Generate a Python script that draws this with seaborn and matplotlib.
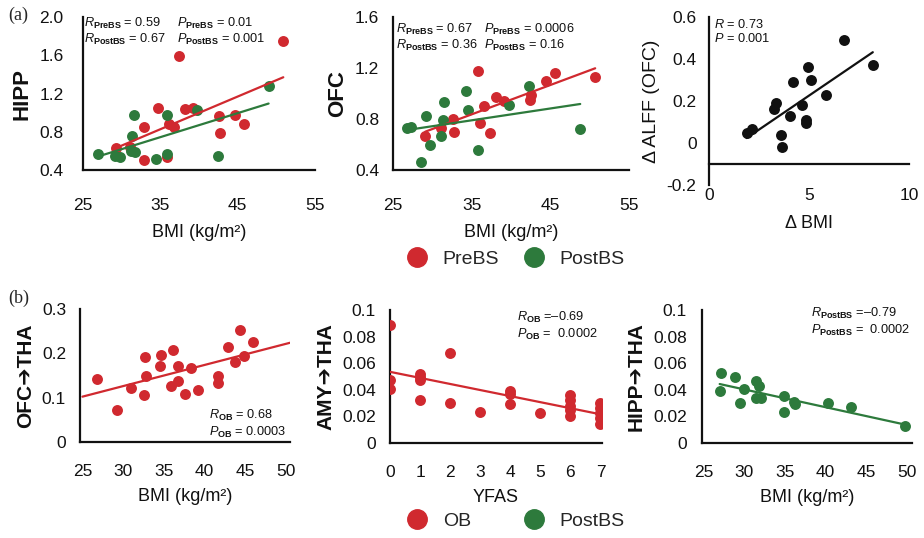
"""BMI / brain-connectivity scatter panels with linear fits."""
import matplotlib

matplotlib.use("Agg")
import matplotlib.pyplot as plt
import pandas as pd
import seaborn as sns
from matplotlib.lines import Line2D

RED = "#d0292f"
GREEN = "#2d7a3c"
BLACK = "#111111"

# ---- (a) HIPP vs BMI
hipp_pre_bmi = [50.9, 37.4, 34.7, 38.2, 39.2, 32.9, 36.1, 36.8, 42.6, 44.7, 45.8, 42.7, 29.3, 31.1, 32.9, 35.9]
hipp_pre_val = [1.75, 1.59, 1.05, 1.04, 1.05, 0.85, 0.88, 0.85, 0.96, 0.97, 0.88, 0.79, 0.63, 0.64, 0.50, 0.54]
hipp_post_bmi = [49.0, 39.8, 31.6, 35.9, 31.3, 26.9, 29.2, 29.8, 31.2, 31.7, 34.5, 35.8, 42.5]
hipp_post_val = [1.28, 1.03, 0.98, 0.98, 0.76, 0.57, 0.55, 0.54, 0.60, 0.59, 0.52, 0.57, 0.55]

# ---- (a) OFC vs BMI
ofc_pre_bmi = [35.8, 45.6, 44.5, 50.7, 42.6, 42.4, 38.1, 39.1, 36.6, 32.6, 36.0, 32.8, 29.1, 37.3, 31.1]
ofc_pre_val = [1.18, 1.16, 1.10, 1.13, 0.99, 0.95, 0.97, 0.94, 0.90, 0.80, 0.77, 0.70, 0.67, 0.69, 0.73]
ofc_post_bmi = [34.3, 42.3, 31.5, 34.5, 39.7, 29.2, 31.4, 26.8, 27.3, 31.1, 29.7, 35.8, 28.6, 48.8]
ofc_post_val = [1.02, 1.06, 0.93, 0.87, 0.91, 0.82, 0.79, 0.73, 0.74, 0.67, 0.60, 0.56, 0.46, 0.72]

# ---- (a) change in ALFF vs change in BMI
d_bmi = [6.73, 8.19, 4.97, 5.11, 4.20, 5.83, 3.35, 3.27, 4.64, 4.05, 4.86, 4.86, 2.13, 1.88, 3.60, 3.67]
d_alff = [0.489, 0.373, 0.362, 0.302, 0.290, 0.230, 0.192, 0.162, 0.179, 0.130, 0.111, 0.095, 0.068, 0.048, 0.038, -0.019]

# ---- (b) OFC->THA vs BMI (OB)
oft_bmi = [26.8, 29.2, 31.0, 32.7, 32.8, 32.6, 34.6, 34.5, 36.1, 35.9, 36.8, 36.8, 37.6, 38.3, 39.2,
           41.6, 41.6, 42.9, 43.7, 44.3, 44.8, 46.0]
oft_val = [0.141, 0.073, 0.122, 0.191, 0.148, 0.107, 0.197, 0.171, 0.208, 0.127, 0.171, 0.138, 0.108,
           0.168, 0.118, 0.148, 0.132, 0.214, 0.180, 0.253, 0.195, 0.226]

# ---- (b) AMY->THA vs YFAS (OB)
yfas = [0, 0, 0, 1, 1, 1, 1, 2, 2, 3, 4, 4, 4, 5, 6, 6, 6, 6, 6, 7, 7, 7, 7, 7]
amy_val = [0.089, 0.0475, 0.0405, 0.052, 0.050, 0.0475, 0.032, 0.068, 0.030, 0.023, 0.039, 0.037,
           0.029, 0.0225, 0.036, 0.032, 0.028, 0.0245, 0.0205, 0.030, 0.026, 0.0225, 0.019, 0.0145]

# ---- (b) HIPP->THA vs BMI (PostBS)
hit_bmi = [27.1, 26.97, 28.9, 29.5, 29.96, 31.4, 31.8, 31.4, 32.0, 34.9, 34.9, 36.1, 36.2, 40.3, 43.1, 49.75]
hit_val = [0.053, 0.039, 0.050, 0.030, 0.0405, 0.0465, 0.043, 0.034, 0.034, 0.0355, 0.023, 0.031,
           0.029, 0.030, 0.027, 0.013]

# tick labels
bmi_ticks_a = [25, 35, 45, 55]
hipp_ticks = [0.4, 0.8, 1.2, 1.6, 2.0]
ofc_ticks = [0.4, 0.8, 1.2, 1.6]
alff_ticks = [-0.2, 0, 0.2, 0.4, 0.6]
alff_ticklabels = ["-0.2", "0", "0.2", "0.4", "0.6"]
dbmi_ticks = [0, 5, 10]
bmi_ticks_b = [25, 30, 35, 40, 45, 50]
oft_ticks = [0, 0.1, 0.2, 0.3]
oft_ticklabels = ["0", "0.1", "0.2", "0.3"]
yfas_ticks = list(range(8))
thal_ticks = [0, 0.02, 0.04, 0.06, 0.08, 0.1]
thal_ticklabels = ["0", "0.02", "0.04", "0.06", "0.08", "0.1"]

sns.set_theme(style="white")
plt.rcParams["font.family"] = ["Liberation Sans", "DejaVu Sans"]
plt.rcParams["mathtext.fontset"] = "custom"
plt.rcParams["mathtext.rm"] = "Liberation Sans"
plt.rcParams["mathtext.it"] = "Liberation Sans:italic"
plt.rcParams["mathtext.bf"] = "Liberation Sans:bold"

W, H = 924, 538
fig = plt.figure(figsize=(W / 100, H / 100), dpi=100)


def add_axes(left, top, right, bottom):
    return fig.add_axes([left / W, 1 - bottom / H, (right - left) / W, (bottom - top) / H])


def style(ax, xlim, ylim, xticks, yticks, xlabel, ylabel, xpad, ypad,
          xticklabels=None, yticklabels=None, ybold=True, ysize=15, xlabelpad=6):
    ax.set_xlim(xlim)
    ax.set_ylim(ylim)
    ax.set_xticks(xticks)
    ax.set_yticks(yticks)
    if xticklabels is not None:
        ax.set_xticklabels(xticklabels)
    if yticklabels is not None:
        ax.set_yticklabels(yticklabels)
    for side in ("top", "right"):
        ax.spines[side].set_visible(False)
    for side in ("left", "bottom"):
        ax.spines[side].set_color(BLACK)
        ax.spines[side].set_linewidth(1.6)
    ax.tick_params(axis="x", length=0, pad=xpad, labelsize=12.5, colors=BLACK)
    ax.tick_params(axis="y", length=0, pad=ypad, labelsize=12.5, colors=BLACK)
    ax.set_xlabel(xlabel, fontsize=13, color=BLACK, labelpad=xlabelpad)
    ax.set_ylabel(ylabel, fontsize=ysize, color=BLACK, labelpad=5,
                  fontweight="bold" if ybold else "normal")
    ax.patch.set_alpha(0)


def points(ax, x, y, color):
    sns.scatterplot(x=x, y=y, ax=ax, color=color, s=62, linewidth=0, zorder=3)


def fit_line(ax, x, y, color, truncate=True):
    sns.regplot(x=pd.Series(x), y=pd.Series(y), ax=ax, scatter=False, ci=None, truncate=truncate,
                line_kws=dict(color=color, lw=1.6, zorder=4))


def stat_text(x, y, s, size=9.2):
    fig.text(x / W, 1 - y / H, s, fontsize=size, color=BLACK, va="center", ha="left")


# ---------- row (a)
ax1 = add_axes(83, 17, 315, 170)
points(ax1, hipp_pre_bmi, hipp_pre_val, RED)
points(ax1, hipp_post_bmi, hipp_post_val, GREEN)
fit_line(ax1, hipp_pre_bmi, hipp_pre_val, RED)
fit_line(ax1, hipp_post_bmi, hipp_post_val, GREEN)
style(ax1, (25, 55), (0.4, 2.0), bmi_ticks_a, hipp_ticks, "BMI (kg/m²)", "HIPP", 20, 14,
      yticklabels=[f"{v:.1f}" for v in hipp_ticks], ysize=16, xlabelpad=8)
stat_text(84, 23, r"$\mathit{R}_{\mathbf{PreBS}}$ = 0.59")
stat_text(84, 39, r"$\mathit{R}_{\mathbf{PostBS}}$ = 0.67")
stat_text(177, 23, r"$\mathit{P}_{\mathbf{PreBS}}$ = 0.01")
stat_text(177, 39, r"$\mathit{P}_{\mathbf{PostBS}}$ = 0.001")

ax2 = add_axes(393, 17, 629, 170)
points(ax2, ofc_pre_bmi, ofc_pre_val, RED)
points(ax2, ofc_post_bmi, ofc_post_val, GREEN)
fit_line(ax2, ofc_pre_bmi, ofc_pre_val, RED)
fit_line(ax2, ofc_post_bmi, ofc_post_val, GREEN)
style(ax2, (25, 55), (0.4, 1.6), bmi_ticks_a, ofc_ticks, "BMI (kg/m²)", "OFC", 20, 10,
      yticklabels=[f"{v:.1f}" for v in ofc_ticks], ysize=16, xlabelpad=8)
stat_text(396, 29, r"$\mathit{R}_{\mathbf{PreBS}}$ = 0.67")
stat_text(396, 45, r"$\mathit{R}_{\mathbf{PostBS}}$ = 0.36")
stat_text(484, 29, r"$\mathit{P}_{\mathbf{PreBS}}$ = 0.0006")
stat_text(484, 45, r"$\mathit{P}_{\mathbf{PostBS}}$ = 0.16")

ax3 = add_axes(709, 17, 909, 185)
points(ax3, d_bmi, d_alff, BLACK)
fit_line(ax3, d_bmi, d_alff, BLACK)
style(ax3, (0, 10), (-0.2, 0.6), dbmi_ticks, alff_ticks, "Δ BMI", "Δ ALFF (OFC)", 17, 9,
      yticklabels=alff_ticklabels, ybold=False, ysize=14, xlabelpad=9)
ax3.spines["bottom"].set_position(("data", -0.1))
stat_text(714, 25, r"$\mathit{R}$ = 0.73")
stat_text(714, 39, r"$\mathit{P}$ = 0.001")

# ---------- row (b)
bx1 = add_axes(80, 309, 290, 442)
bx1.set_xlim(25, 50.5)
points(bx1, oft_bmi, oft_val, RED)
fit_line(bx1, oft_bmi, oft_val, RED, truncate=False)
style(bx1, (24.7, 50.5), (0, 0.3), bmi_ticks_b, oft_ticks, "BMI (kg/m²)", "OFC➔THA", 16, 10,
      yticklabels=oft_ticklabels)
stat_text(209, 415, r"$\mathit{R}_{\mathbf{OB}}$ = 0.68")
stat_text(209, 432, r"$\mathit{P}_{\mathbf{OB}}$ = 0.0003")

bx2 = add_axes(390, 310, 602, 443)
points(bx2, yfas, amy_val, RED)
fit_line(bx2, yfas, amy_val, RED)
style(bx2, (0, 7.05), (0, 0.1), yfas_ticks, thal_ticks, "YFAS", "AMY➔THA", 16, 10,
      yticklabels=thal_ticklabels)
stat_text(517, 317, r"$\mathit{R}_{\mathbf{OB}}$ =–0.69")
stat_text(517, 334, r"$\mathit{P}_{\mathbf{OB}}$ =  0.0002")

bx3 = add_axes(702, 310, 912, 443)
points(bx3, hit_bmi, hit_val, GREEN)
fit_line(bx3, hit_bmi, hit_val, GREEN)
style(bx3, (24.8, 50.6), (0, 0.1), bmi_ticks_b, thal_ticks, "BMI (kg/m²)", "HIPP➔THA", 16, 11,
      yticklabels=thal_ticklabels)
stat_text(811, 313, r"$\mathit{R}_{\mathbf{PostBS}}$ =–0.79")
stat_text(811, 330, r"$\mathit{P}_{\mathbf{PostBS}}$ =  0.0002")


# ---------- legends
def legend_entry(x, y, label, color):
    handle = Line2D([], [], marker="o", ls="", color=color, markersize=14)
    fig.legend(handles=[handle], labels=[label], loc="center left",
               bbox_to_anchor=((x - 14) / W, 1 - y / H), frameon=False,
               fontsize=14, handletextpad=0.3, borderpad=0, borderaxespad=0)


legend_entry(412, 259, "PreBS", RED)
legend_entry(529, 259, "PostBS", GREEN)
legend_entry(412, 521, "OB", RED)
legend_entry(529, 521, "PostBS", GREEN)

# panel letters
fig.text(8 / W, 1 - 15 / H, "(a)", fontsize=13, family="Liberation Serif", va="center")
fig.text(8 / W, 1 - 298 / H, "(b)", fontsize=13, family="Liberation Serif", va="center")

fig.savefig("out.png", dpi=100)
